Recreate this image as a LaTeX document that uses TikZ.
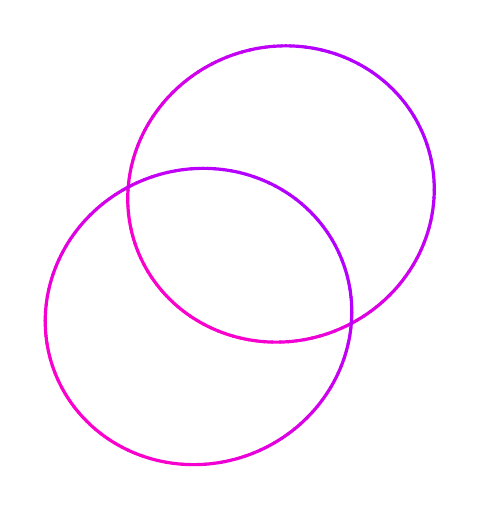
\documentclass[tikz,border=0pt]{standalone}
\usetikzlibrary{calc}
\definecolor{mag}{RGB}{250,0,205}
\definecolor{pur}{RGB}{180,0,255}
\tikzset{ring/.style={line width=1.6pt,line cap=round}}
\newcommand{\gradring}[3]{% cx, cy, name
  \begin{scope}[shift={(#1,#2)},rotate=21.5]
    \coordinate (#3) at (0,0);
    \foreach \s in {0,3,...,357}{
      \pgfmathsetmacro\f{max(0,min(100,50+60*cos(\s+1.5+21.5-45)))}
      \draw[ring,draw=pur!\f!mag] (\s:154.2 and 147.2) arc[start angle=\s,end angle=\s+3.2,x radius=154.2,y radius=147.2];
    }
  \end{scope}}
\begin{document}
\begin{tikzpicture}[x=0.5pt,y=0.5pt]
\useasboundingbox (0,0) rectangle (480,512);
\gradring{281}{318}{upper}
\gradring{198.5}{195.5}{lower}
\end{tikzpicture}
\end{document}
